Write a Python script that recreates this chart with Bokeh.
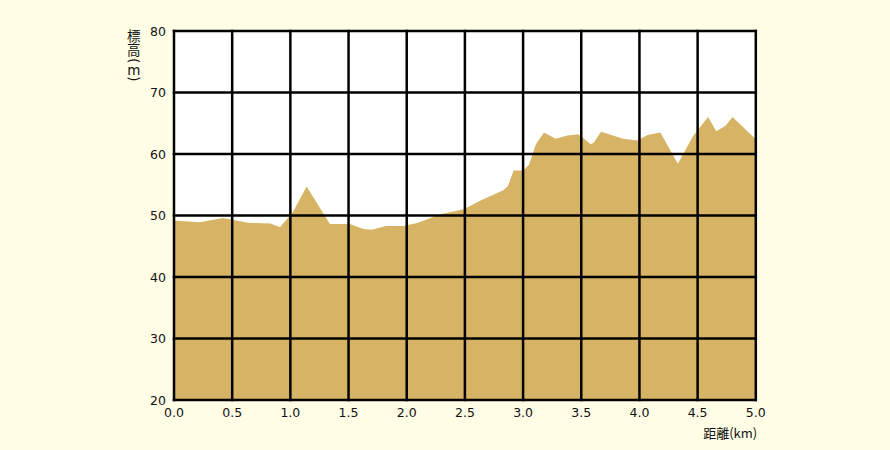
import math
from bokeh.plotting import figure
from bokeh.models import Label, FixedTicker, Range1d, LinearAxis
from bokeh.embed import file_html
from bokeh.resources import INLINE

# distance (km) and elevation (m) read from the profile
distance_km = [0.00, 0.22, 0.42, 0.65, 0.83, 0.91, 1.02, 1.14, 1.34, 1.51,
               1.63, 1.70, 1.82, 1.97, 2.09, 2.29, 2.49, 2.63, 2.83, 2.87,
               2.92, 3.00, 3.05, 3.11, 3.18, 3.28, 3.38, 3.47, 3.49, 3.58,
               3.61, 3.67, 3.86, 3.98, 4.01, 4.07, 4.18, 4.33, 4.46, 4.59,
               4.66, 4.74, 4.80, 5.00]
elevation_m = [49.2, 48.9, 49.6, 48.8, 48.7, 48.1, 50.5, 54.7, 48.6, 48.6,
               47.8, 47.7, 48.3, 48.3, 48.8, 50.2, 51.0, 52.4, 54.1, 54.8,
               57.3, 57.3, 58.2, 61.6, 63.5, 62.5, 63.0, 63.2, 63.0, 61.6,
               61.9, 63.6, 62.5, 62.2, 62.5, 63.1, 63.5, 58.4, 62.9, 66.0,
               63.7, 64.6, 66.0, 62.4]

x_ticks = [0.0, 0.5, 1.0, 1.5, 2.0, 2.5, 3.0, 3.5, 4.0, 4.5, 5.0]
y_ticks = [20, 30, 40, 50, 60, 70, 80]
x_title = "距離(km)"
# vertical y title: (character, rotated?)
y_title_chars = [("標", False), ("高", False), ("(", True), ("m", False), (")", True)]

BG = "#FFFDE6"
FILL = "#D7B366"
INK = "#111111"
W, H = 874, 442
# pixel geometry of the plotting area inside the canvas
LEFT_PX, TOP_PX, PX_PER_KM, PX_PER_M = 173.5, 30.5, 116.36, 6.15
x0 = x_ticks[0] - LEFT_PX / PX_PER_KM
x1 = x_ticks[0] + (W - LEFT_PX) / PX_PER_KM
y1 = y_ticks[-1] + TOP_PX / PX_PER_M
y0 = y_ticks[-1] - (H - TOP_PX) / PX_PER_M

p = figure(width=W, height=H, output_backend="svg", toolbar_location=None,
           x_range=Range1d(x0, x1), y_range=Range1d(y0, y1),
           x_axis_type=None, y_axis_type=None)
p.min_border = 0
p.min_border_left = p.min_border_right = p.min_border_top = p.min_border_bottom = 0
p.background_fill_color = BG
p.border_fill_color = BG
p.outline_line_color = None
p.xgrid.visible = False
p.ygrid.visible = False

xs, xe = x_ticks[0], x_ticks[-1]
ys, ye = y_ticks[0], y_ticks[-1]

# white plotting area
p.quad(left=[xs], right=[xe], bottom=[ys], top=[ye], fill_color="white", line_color=None)
# elevation profile
p.varea(x=distance_km, y1=[ys] * len(distance_km), y2=elevation_m, fill_color=FILL)
# grid / frame lines on top
p.segment(x0=x_ticks, y0=[ys] * len(x_ticks), x1=x_ticks, y1=[ye] * len(x_ticks),
          line_color="black", line_width=2.5, line_cap="square")
p.segment(x0=[xs] * len(y_ticks), y0=y_ticks, x1=[xe] * len(y_ticks), y1=y_ticks,
          line_color="black", line_width=2.5, line_cap="square")

yaxis = LinearAxis(fixed_location=xs, bounds=(ys, ye), ticker=FixedTicker(ticks=y_ticks))
xaxis = LinearAxis(fixed_location=ys, bounds=(xs, xe), ticker=FixedTicker(ticks=x_ticks))
xaxis.major_label_overrides = {t: f"{t:.1f}" for t in x_ticks}
for ax in (xaxis, yaxis):
    ax.axis_line_color = None
    ax.major_tick_line_color = None
    ax.minor_tick_line_color = None
    ax.major_tick_in = 0
    ax.major_tick_out = 0
    ax.major_label_text_font = "DejaVu Sans"
    ax.major_label_text_font_size = "12.5px"
    ax.major_label_text_color = INK
    ax.major_label_standoff = 8
p.add_layout(yaxis, "left")
p.add_layout(xaxis, "below")

# y title, vertical writing (pixel centres measured on the reference)
tx = xs - (LEFT_PX - 133.3) / PX_PER_KM
centres_px = [34.8, 48.5, 60.2, 69.0, 78.5]
for (ch, rot), cy in zip(y_title_chars, centres_px):
    yy = ye - (cy - TOP_PX) / PX_PER_M
    cjk = ch in ("標", "高")
    p.add_layout(Label(x=tx, y=yy, text=ch, text_align="center", text_baseline="middle",
                       angle=(-math.pi / 2 if rot else 0),
                       text_font=("Noto Sans CJK JP" if cjk else "DejaVu Sans"),
                       text_font_size="13.5px", text_color=INK))

p.add_layout(Label(x=5.012, y=14.76, text=x_title, text_align="right", text_baseline="middle",
                   text_font="Noto Sans CJK JP", text_font_size="13px", text_color=INK))

html = file_html(p, INLINE)
html = html.replace("</head>", f"<style>html, body {{ background: {BG}; }}</style></head>", 1)
open("out.html", "w").write(html)
